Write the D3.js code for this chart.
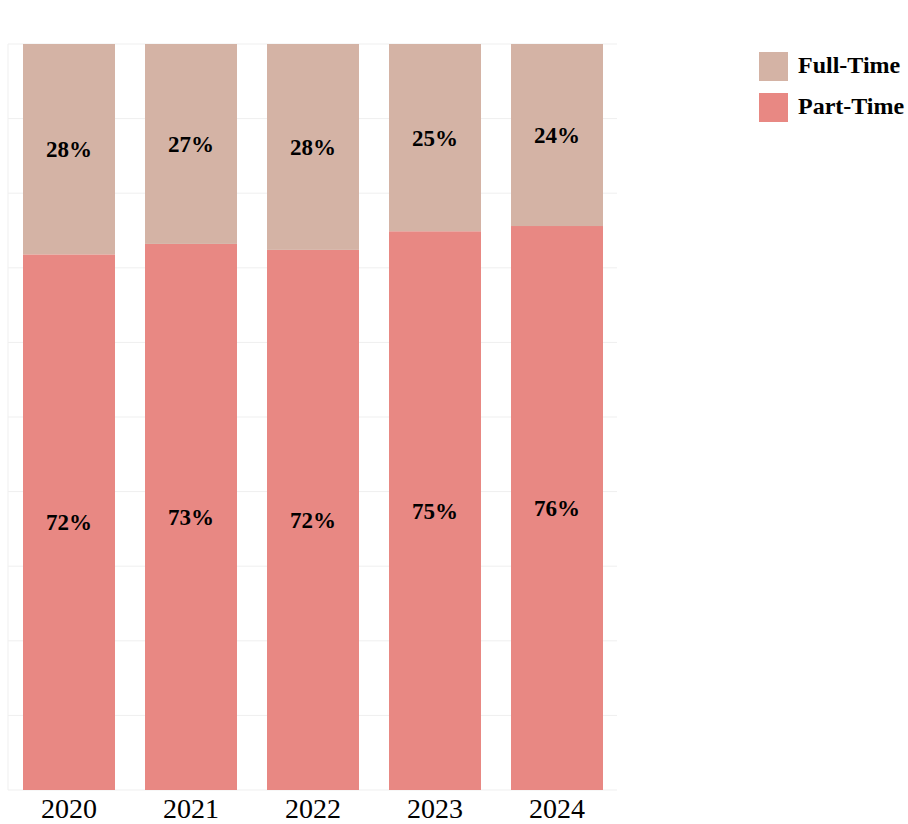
<!DOCTYPE html>
<html>
<head>
<meta charset="utf-8">
<script src="https://cdn.jsdelivr.net/npm/d3@7"></script>
<style>
  html, body { margin: 0; padding: 0; background: #fff; }
  svg { display: block; }
</style>
</head>
<body>
<svg id="chart" width="908" height="824"></svg>
<script>
const years = ["2020", "2021", "2022", "2023", "2024"];
const partTime = [71.8, 73.2, 72.4, 74.9, 75.6];
const fullTime = [28.2, 26.8, 27.6, 25.1, 24.4];
const seriesNames = ["Part-Time", "Full-Time"];
const legendNames = ["Full-Time", "Part-Time"];
const colors = { "Full-Time": "#d4b3a5", "Part-Time": "#e88883" };
const gridTicks = [0, 10, 20, 30, 40, 50, 60, 70, 80, 90, 100];

(function () {
const rows = years.map((yr, i) => ({ year: yr, "Part-Time": partTime[i], "Full-Time": fullTime[i] }));

const svg = d3.select("#chart");
const pLeft = 8, pRight = 618, pTop = 44, pBottom = 790;

const x = d3.scaleBand().domain(years).range([pLeft, pRight]).paddingInner(0.246).paddingOuter(0.123);
const y = d3.scaleLinear().domain([0, 100]).range([pBottom, pTop]);

// grid
svg.append("g").selectAll("line").data(gridTicks).join("line")
  .attr("x1", pLeft).attr("x2", pRight - 1)
  .attr("y1", d => y(d)).attr("y2", d => y(d))
  .attr("stroke", "#efefef").attr("stroke-width", 1);
svg.append("line").attr("x1", pLeft).attr("x2", pLeft).attr("y1", pTop).attr("y2", pBottom)
  .attr("stroke", "#efefef");

const stack = d3.stack().keys(seriesNames)(rows);

const layers = svg.append("g").selectAll("g").data(stack).join("g")
  .attr("fill", d => colors[d.key]);
layers.selectAll("rect").data(d => d).join("rect")
  .attr("x", d => x(d.data.year))
  .attr("width", x.bandwidth())
  .attr("y", d => y(d[1]))
  .attr("height", d => y(d[0]) - y(d[1]));

// labels
const labels = svg.append("g").attr("font-family", "'Liberation Serif', 'Times New Roman', serif")
  .attr("font-weight", "bold").attr("font-size", 23).attr("fill", "#000").attr("text-anchor", "middle");
stack.forEach(layer => {
  labels.append("g").selectAll("text").data(layer).join("text")
    .attr("x", d => x(d.data.year) + x.bandwidth() / 2)
    .attr("y", d => (y(d[0]) + y(d[1])) / 2)
    .attr("dy", "0.35em")
    .text(d => Math.round(d[1] - d[0]) + "%");
});

// x axis
const xAxis = svg.append("g").attr("transform", `translate(0,${pBottom})`)
  .call(d3.axisBottom(x).tickSize(0).tickPadding(8));
xAxis.select(".domain").remove();
xAxis.selectAll("text").attr("font-family", "'Liberation Serif', 'Times New Roman', serif")
  .attr("font-size", 28).attr("fill", "#000");

// legend
const legend = svg.append("g").attr("transform", "translate(759,52)");
const li = legend.selectAll("g").data(legendNames).join("g")
  .attr("transform", (d, i) => `translate(0,${i * 41})`);
li.append("rect").attr("width", 29).attr("height", 29).attr("fill", d => colors[d]);
li.append("text").attr("x", 39).attr("y", 21)
  .attr("font-family", "'Liberation Serif', 'Times New Roman', serif")
  .attr("font-weight", "bold").attr("font-size", 24).attr("fill", "#000")
  .text(d => d);
})();
</script>
</body>
</html>
